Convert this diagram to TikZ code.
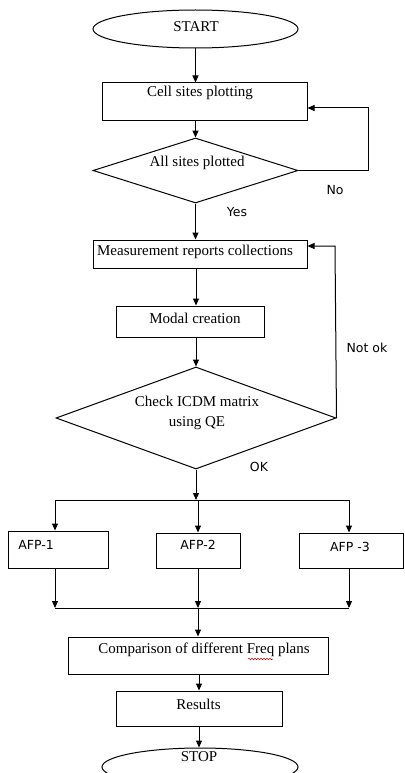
\documentclass[tikz,border=0pt]{standalone}
\usepackage{fontspec}
\setmainfont{Liberation Serif}
\newfontfamily\lblfont{DejaVu Sans}
\usetikzlibrary{shapes.geometric,arrows.meta,decorations.pathmorphing}
\begin{document}
\begin{tikzpicture}[x=1pt,y=-1pt, line width=1pt,
 box/.style={draw, rectangle, inner sep=0pt},
 oval/.style={draw, ellipse, inner sep=0pt},
 dia/.style={draw, diamond, inner sep=0pt},
 txt/.style={font=\fontsize{15}{20}\selectfont, inner sep=0pt, align=center},
 lbl/.style={font=\lblfont\fontsize{12.5}{14}\selectfont, inner sep=0pt},
 arr/.style={-{Triangle[length=7pt,width=6pt]}},
]
\useasboundingbox (0,0) rectangle (404,773);
\fill[white] (0,0) rectangle (404,773);

% shapes
\node[oval, minimum width=205pt, minimum height=38pt] (start) at (195.5,29) {};
\node[txt] (tstart) at (196,27) {START};
\node[box, minimum width=205pt, minimum height=38pt] (cell) at (204.5,102) {};
\node[txt] (tcell) at (200,93) {Cell sites plotting};
\node[dia, minimum width=205pt, minimum height=65pt] (d1) at (195.5,170.5) {};
\node[txt] (td1) at (197,163) {All sites plotted};
\node[box, minimum width=214pt, minimum height=28pt] (meas) at (200,254) {};
\node[txt] (tmeas) at (195,252) {Measurement reports collections};
\node[box, minimum width=148pt, minimum height=31pt] (modal) at (190,321.5) {};
\node[txt] (tmodal) at (195,318) {Modal creation};
\node[dia, minimum width=280pt, minimum height=102pt] (d2) at (196,418) {};
\node[txt] (td2) at (197,413) {Check ICDM matrix\\using QE};
\node[box, minimum width=100pt, minimum height=37pt] (afp1) at (58,549.5) {};
\node[lbl] (tafp1) at (36,545) {AFP-1};
\node[box, minimum width=84pt, minimum height=35pt] (afp2) at (198,550.5) {};
\node[lbl] (tafp2) at (198,545) {AFP-2};
\node[box, minimum width=104pt, minimum height=35pt] (afp3) at (351,550.5) {};
\node[lbl] (tafp3) at (350,547) {AFP -3};
\node[box, minimum width=260pt, minimum height=37pt] (comp) at (198,655.5) {};
\node[txt] (tcomp) at (204,650) {Comparison of different Freq plans};
\node[box, minimum width=166pt, minimum height=35pt] (res) at (199,708.5) {};
\node[txt] (tres) at (198.5,704) {Results};
\node[oval, minimum width=196pt, minimum height=38pt] (stop) at (200,767) {};
\node[txt] (tstop) at (199,757) {STOP};

% labels
\node[lbl] (lno) at (335,190) {No};
\node[lbl] (lyes) at (237,212) {Yes};
\node[lbl] (lnotok) at (367,348) {Not ok};
\node[lbl] (lok) at (259,467) {OK};

% spell-check squiggle
\draw[red!80!black, line width=0.5pt, decorate, decoration={snake, amplitude=0.8pt, segment length=3pt}] (248,659) -- (273,659);

% coordinates
\coordinate (noR) at (368,170.5);
\coordinate (noT) at (368,108);
\coordinate (nkT) at (335,246);
\coordinate (s) at (196,500);
\coordinate (sL) at (55,500);
\coordinate (sR) at (349,500);
\coordinate (jL) at (55,608);
\coordinate (jR) at (349,608);
\coordinate (j) at (198,608);

% connectors
\draw[arr] (start.south) -- (start.south |- cell.north);
\draw[arr] (d1.north |- cell.south) -- (d1.north);
\draw[arr] (d1.east) -- (noR) -- (noT) -- (cell.east |- noT);
\draw[arr] (d1.south) -- (d1.south |- meas.north);
\draw[arr] (meas.south -| d2.north) -- (modal.north -| d2.north);
\draw[arr] (modal.south -| d2.north) -- (d2.north);
\draw[arr] (d2.east) -- (nkT) -- (meas.east |- nkT);
\draw[arr] (d2.south) -- (s);
\draw (sL) -- (sR);
\draw[arr] (sL) -- (sL |- afp1.north);
\draw[arr] (afp2.north |- s) -- (afp2.north);
\draw[arr] (sR) -- (sR |- afp3.north);
\draw[arr] (afp1.south -| jL) -- (jL);
\draw[arr] (afp2.south) -- (afp2.south |- j);
\draw[arr] (afp3.south -| jR) -- (jR);
\draw (jL) -- (jR);
\draw[arr] (j) -- (comp.north);
\draw[arr] (comp.south -| res.north) -- (res.north);
\draw[arr] (res.south) -- (res.south |- stop.north);
\end{tikzpicture}
\end{document}
